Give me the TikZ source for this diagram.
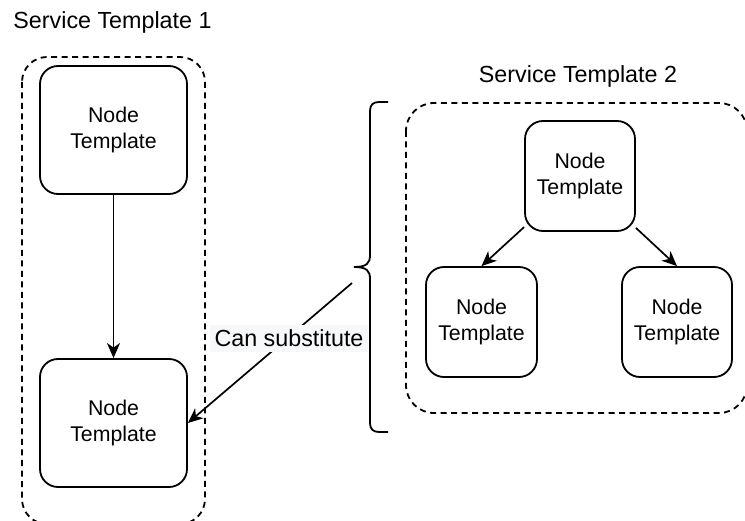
\documentclass[tikz,border=0pt]{standalone}
\usepackage{fontspec}
\setmainfont{Liberation Sans}
\usetikzlibrary{arrows.meta}
\definecolor{lblbg}{HTML}{F7F8FA}
\tikzset{
  ntpl/.style={draw, line width=1.8pt, rounded corners=18pt, align=center, inner sep=0pt,
    font=\fontsize{21.3}{26}\selectfont},
  grp/.style={draw, line width=1.8pt, dash pattern=on 6pt off 4.5pt, rounded corners=#1},
  lbl/.style={font=\fontsize{23.3}{27}\selectfont, inner sep=0pt},
  conn/.style={line width=1.7pt, -{Stealth[length=15pt,width=13pt,inset=4.5pt]}},
}
\begin{document}
\begin{tikzpicture}[x=1pt,y=-1pt]
\useasboundingbox (0,0) rectangle (745,521);
\clip (0,0) rectangle (745,521);
% groups
\draw[grp=25pt] (22,57) rectangle (205,524);
\draw[grp=28pt] (406,103) rectangle (747,413);
% group labels
\node[lbl, anchor=base] (st1) at (112.5,28.5) {Service Template 1};
\node[lbl, anchor=base] (st2) at (578,83) {Service Template 2};
% nodes left
\node[ntpl, minimum width=147pt, minimum height=128pt] (a) at (113.5,130) {Node\\Template};
\node[ntpl, minimum width=147pt, minimum height=128pt] (b) at (113.5,423) {Node\\Template};
% nodes right
\node[ntpl, minimum width=110pt, minimum height=110pt] (t) at (580,176) {Node\\Template};
\node[ntpl, minimum width=111pt, minimum height=110pt] (l) at (481.5,322) {Node\\Template};
\node[ntpl, minimum width=110pt, minimum height=110pt] (r) at (677,322) {Node\\Template};
% connectors
\draw[conn] (a) -- (b);
\draw[conn] (t) -- (l.north);
\draw[conn] (t) -- (r.north);
% brace
\draw[line width=1.8pt] (388,102) -- (379,102) .. controls (373,102) and (370,105) .. (370,111)
  -- (370,255) .. controls (370,263) and (367,267) .. (354,267)
  .. controls (367,267) and (370,271) .. (370,279)
  -- (370,423) .. controls (370,429) and (373,432) .. (379,432) -- (388,432);
\coordinate (cs) at (352,283);
\draw[conn] (cs) -- (b.east);
\node[lbl, fill=lblbg, anchor=base, text height=21pt, text depth=5pt, inner xsep=5pt, inner ysep=0.5pt] (sub) at (289,347) {Can substitute};
\end{tikzpicture}
\end{document}
